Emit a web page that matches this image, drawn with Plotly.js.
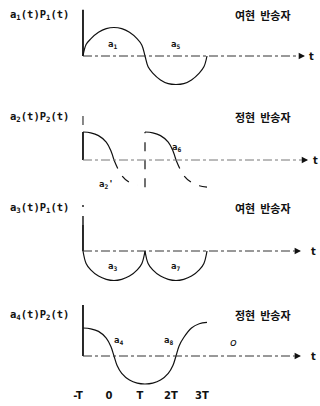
<!DOCTYPE html>
<html>
<head>
<meta charset="utf-8">
<script src="https://cdn.plot.ly/plotly-3.0.1.min.js"></script>
<style>
  html, body { margin: 0; padding: 0; background: #fff; }
  #chart { width: 320px; height: 406px; }
</style>
</head>
<body>
<div id="chart"></div>
<script>
// time in units of T
const tickVals = [-1, 0, 1, 2, 3]
const tickText = ["-T", "0", "T", "2T", "3T"]

const panelNames = [
    "a<sub>1</sub>(t)P<sub>1</sub>(t)",
    "a<sub>2</sub>(t)P<sub>2</sub>(t)",
    "a<sub>3</sub>(t)P<sub>1</sub>(t)",
    "a<sub>4</sub>(t)P<sub>2</sub>(t)"
]
const carrierNames = ["여현  반송자", "정현  반송자", "여현  반송자", "정현  반송자"]

// panel 1 : a1 then a5
const t1 = [-1, -0.9, -0.75, -0.5, -0.25, 0, 0.25, 0.5, 0.75, 0.9, 1, 1.1, 1.25, 1.5, 1.75, 2, 2.25, 2.5, 2.75, 2.9, 3]
const v1 = [0, 0.4, 0.6, 0.83, 0.96, 1, 0.96, 0.83, 0.6, 0.38, 0, -0.38, -0.6, -0.84, -0.97, -1, -0.97, -0.84, -0.6, -0.38, 0]

// panel 2 : two pulses, solid part and dashed tail
const t2a = [-1, -0.75, -0.5, -0.25, -0.1, 0]
const v2a = [1, 0.97, 0.87, 0.64, 0.33, 0]
const t2aTail = [0, 0.25, 0.5, 0.75]
const v2aTail = [0, -0.55, -0.8, -0.9]
const t2b = [1, 1.25, 1.5, 1.75, 1.9, 2]
const v2b = [1, 0.97, 0.87, 0.64, 0.33, 0]
const t2bTail = [2, 2.25, 2.5, 2.75, 3]
const v2bTail = [0, -0.55, -0.8, -0.92, -0.97]
const t2edge = [1, 1]
const v2edge = [-0.97, 1]

// panel 3 : a3 and a7
const t3a = [-1, -0.9, -0.75, -0.5, -0.25, 0, 0.25, 0.5, 0.75, 0.9, 1]
const v3a = [0, -0.42, -0.64, -0.85, -0.96, -1, -0.96, -0.85, -0.64, -0.42, 0]
const t3b = [1, 1.1, 1.25, 1.5, 1.75, 2, 2.25, 2.5, 2.75, 2.9, 3]
const v3b = [0, -0.42, -0.64, -0.85, -0.96, -1, -0.96, -0.85, -0.64, -0.42, 0]

// panel 4 : a4 then a8
const t4 = [-1, -0.75, -0.5, -0.25, -0.1, 0, 0.1, 0.25, 0.5, 0.75, 1, 1.25, 1.5, 1.75, 1.9, 2, 2.1, 2.25, 2.5, 2.75, 3]
const v4 = [1, 0.97, 0.88, 0.64, 0.34, 0, -0.34, -0.62, -0.86, -0.97, -1, -0.97, -0.86, -0.62, -0.34, 0, 0.36, 0.66, 1.0, 1.15, 1.2]

const H = 406
const ink = "#111"

// each panel gets its own y axis: baseline pixel, px per unit, pixel window
function panelAxis(base, unit, top, bottom) {
    return {
        domain: [1 - bottom / H, 1 - top / H],
        range: [(base - bottom) / unit, (base - top) / unit],
        autorange: false,
        visible: false,
        fixedrange: true
    }
}

function curve(x, y, yaxis, dash) {
    return {
        x: x, y: y, yaxis: yaxis,
        type: "scatter", mode: "lines",
        line: {color: ink, width: 1.2, shape: "spline", smoothing: 1, dash: dash || "solid"},
        hoverinfo: "skip"
    }
}

let data = [
    curve(t1, v1, "y"),
    curve(t2a, v2a, "y2"),
    curve(t2aTail, v2aTail, "y2", "dash"),
    curve(t2b, v2b, "y2"),
    curve(t2bTail, v2bTail, "y2", "dash"),
    curve(t2edge, v2edge, "y2", "dash"),
    curve(t3a, v3a, "y3"),
    curve(t3b, v3b, "y3"),
    curve(t4, v4, "y4")
]

const yrefs = ["y", "y2", "y3", "y4"]
const arrowTip = [6.16, 6.26, 6.03, 6.03]
const tLabelPx = [311, 315, 313, 313]

// axis lines
let shapes = []
function vline(yref, y0, y1, dash, width) {
    shapes.push({type: "line", xref: "x", yref: yref, x0: -1, x1: -1, y0: y0, y1: y1,
        line: {color: ink, width: width, dash: dash}})
}
vline("y", 0, 1.62, "solid", 1.8)
vline("y2", 1.25, 1.72, "dash", 1)
vline("y2", 0, 1, "solid", 1.8)
vline("y3", 0.88, 1.56, "dash", 1.4)
vline("y3", 0, 0.88, "solid", 1.8)
vline("y4", 0, 1.82, "solid", 1.8)

for (let i = 0; i < 4; i++) {
    shapes.push({type: "line", xref: "x", yref: yrefs[i], x0: -1, x1: arrowTip[i] - 0.2, y0: 0, y1: 0,
        line: {color: i === 1 ? "#777" : "#333", width: 1, dash: "dashdot"}})
}

let annotations = []
const markFont = {family: "DejaVu Sans Mono", size: 10.5, color: ink, weight: "bold"}
for (let i = 0; i < 4; i++) {
    annotations.push({x: arrowTip[i], y: 0, xref: "x", yref: yrefs[i], ax: -7, ay: 0, text: "",
        showarrow: true, arrowhead: 2, arrowsize: 0.9, arrowwidth: 1.4, arrowcolor: ink})
    annotations.push({x: tLabelPx[i] / 320, y: 0, xref: "paper", yref: yrefs[i], text: "t",
        showarrow: false, xanchor: "center", font: {family: "DejaVu Sans", size: 10, color: ink, weight: "bold"}})
}

const nameY = [15, 117, 208, 315]
for (let i = 0; i < 4; i++) {
    annotations.push({x: 8 / 320, y: 1 - nameY[i] / H, xref: "paper", yref: "paper",
        xanchor: "left", yanchor: "middle", text: panelNames[i], showarrow: false, font: markFont})
    annotations.push({x: 263 / 320, y: 1 - nameY[i] / H, xref: "paper", yref: "paper",
        xanchor: "center", yanchor: "middle", text: carrierNames[i], showarrow: false,
        font: {family: "Noto Sans CJK KR", size: 11, color: ink, weight: "bold"}})
}

// small labels on the curves
function tag(x, y, yref, text) {
    annotations.push({x: x, y: y, xref: "x", yref: yref, text: text, showarrow: false,
        font: {family: "DejaVu Sans Mono", size: 9, color: ink, weight: "bold"}})
}
tag(-0.06, 0.42, "y", "a<sub>1</sub>")
tag(1.97, 0.42, "y", "a<sub>5</sub>")
tag(-0.23, -0.86, "y2", "a<sub>2</sub>'")
tag(2.03, 0.43, "y2", "a<sub>6</sub>")
tag(-0.06, -0.54, "y3", "a<sub>3</sub>")
tag(1.97, -0.54, "y3", "a<sub>7</sub>")
tag(0.16, 0.55, "y4", "a<sub>4</sub>")
tag(1.77, 0.55, "y4", "a<sub>8</sub>")
annotations.push({x: 3.84, y: 0.5, xref: "x", yref: "y4", text: "<i>o</i>", showarrow: false,
    font: {family: "DejaVu Sans", size: 11, color: ink}})

let layout = {
    width: 320, height: 406,
    margin: {l: 0, r: 0, t: 0, b: 0},
    paper_bgcolor: "#fff", plot_bgcolor: "#fff",
    showlegend: false,
    xaxis: {
        range: [-3.677, 6.645], anchor: "y4",
        showgrid: false, zeroline: false, showline: false, ticks: "",
        tickvals: tickVals, ticktext: tickText, ticklabelshift: -5,
        tickfont: {family: "DejaVu Sans", size: 10, color: ink, weight: "bold"},
        fixedrange: true
    },
    yaxis: panelAxis(56, 28.5, 2, 100),
    yaxis2: panelAxis(160, 28, 103, 200),
    yaxis3: panelAxis(251, 29.5, 203, 300),
    yaxis4: panelAxis(356, 28, 303, 388),
    shapes: shapes,
    annotations: annotations
}

Plotly.newPlot("chart", data, layout, {staticPlot: true, displayModeBar: false})
</script>
</body>
</html>
